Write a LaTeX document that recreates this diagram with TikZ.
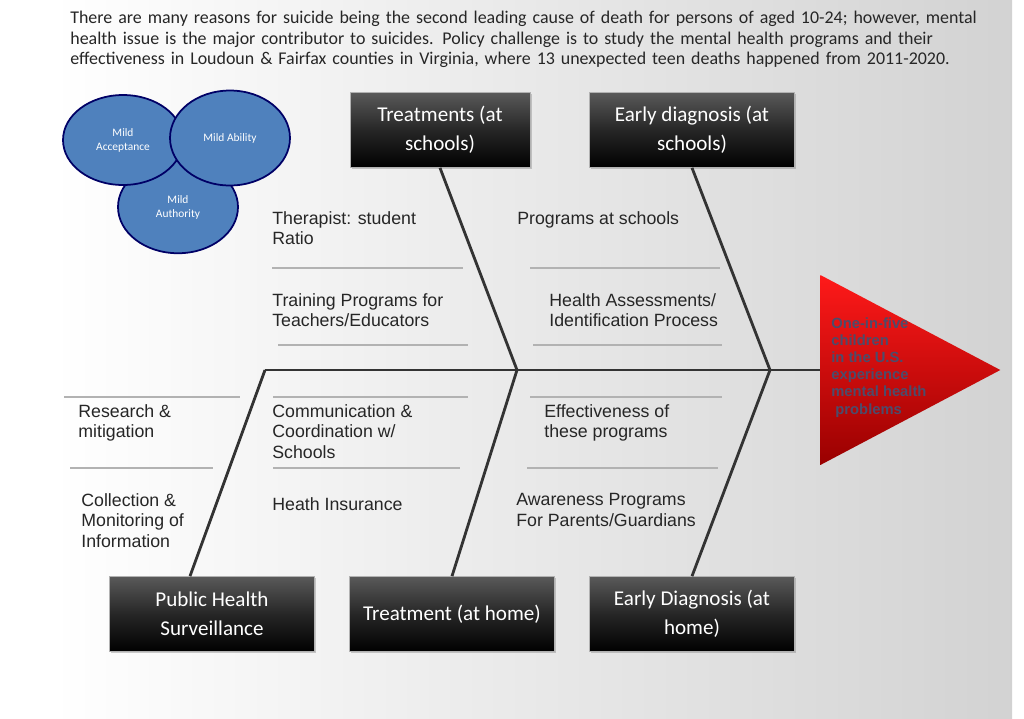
\documentclass[tikz,border=0pt]{standalone}
\usepackage{fontspec}
\setmainfont{Liberation Sans}
\newfontfamily\bodyfont{Carlito}
\usetikzlibrary{positioning, shapes.geometric, shadows}

\begin{document}
\begin{tikzpicture}[
    x=0.02cm, y=-0.02cm,
    font=\fontsize{10.1}{11.8}\selectfont,
    cause/.style={
        rectangle,
        draw=gray!60,
        top color=gray!70!black,
        bottom color=black,
        middle color=black!85,
        text=white,
        minimum width=4.1cm,
        minimum height=1.5cm,
        align=center,
        font=\bodyfont\fontsize{12}{16.5}\selectfont,
        drop shadow={shadow xshift=1pt, shadow yshift=-1pt, opacity=0.4}
    },
    bone/.style={line width=1.6pt, draw=black!80},
    rib/.style={line width=1.2pt, draw=gray!60},
    item/.style={anchor=north west, align=left, inner sep=0pt, text=black!85},
    circ/.style={ellipse, draw=blue!40!black, line width=1pt, fill={rgb,255:red,79;green,129;blue,189},
        text=white, align=center, font=\bodyfont\fontsize{6.5}{8}\selectfont}
]

% fond
\useasboundingbox (0,0) rectangle (1024,718);
\fill[white] (0,0) rectangle (1024,718);
\shade[left color=white, right color=gray!35] (52,0) rectangle (1012,718);

% texte du haut
\node[anchor=north west, text width=18.6cm, align=left, inner sep=0pt, text=black!85,
      font=\bodyfont\fontsize{10.2}{11.6}\selectfont] (intro) at (70,11)
  {There are many reasons for suicide being the second leading cause of death for persons of aged 10-24; however, mental\\health issue is the major contributor to suicides. Policy challenge is to study the mental health programs and their\\effectiveness in Loudoun \& Fairfax counties in Virginia, where 13 unexpected teen deaths happened from 2011-2020.};

% cercles
\node[circ, minimum width=2.4cm, minimum height=1.85cm] (autorite) at (178,207) {Mild\\Authority};
\node[circ, minimum width=2.4cm, minimum height=1.8cm] (acceptation) at (123,140) {Mild\\Acceptance};
\node[circ, minimum width=2.4cm, minimum height=1.9cm] (capacite) at (230,138) {Mild Ability};

% tete du poisson
\coordinate (queue) at (265,370);
\coordinate (j1) at (517,370);
\coordinate (j2) at (770,370);
\node[isosceles triangle, isosceles triangle apex angle=56, minimum height=3.6cm,
      isosceles triangle stretches, minimum width=3.8cm,
      top color=red!90, bottom color=red!60!black, draw=none, anchor=west,
      inner sep=0pt] (probleme) at (820,370) {};
\node[item, font=\bfseries\fontsize{8.4}{9.8}\selectfont, text=black!70!blue!40!gray] (texteprob) at (831,317)
  {One-in-five\\children\\in the U.S.\\experience\\mental health\\\ problems};

% causes
\node[cause, minimum width=3.6cm] (trtecole) at (440,130) {Treatments (at\\schools)};
\node[cause] (diagecole) at (692,130) {Early diagnosis (at\\schools)};
\node[cause] (sante) at (212,614) {Public Health\\Surveillance};
\node[cause] (trtmaison) at (452,614) {Treatment (at home)};
\node[cause] (diagmaison) at (692,614) {Early Diagnosis (at\\home)};

% aretes
\draw[bone] (queue) -- (probleme.west);
\draw[bone] (trtecole.south) -- (j1);
\draw[bone] (diagecole.south) -- (j2);
\draw[bone] (queue) -- (sante.north -| 190,0);
\draw[bone] (j1) -- (trtmaison.north);
\draw[bone] (j2) -- (diagmaison.north);

% cotes
\foreach \xa/\xb/\yy in {272/463/268, 530/720/268, 278/468/345, 533/722/345,
    64/240/397, 273/468/397, 530/722/397, 70/213/468, 273/460/468, 527/718/468}
  \draw[rib] (\xa,\yy) -- (\xb,\yy);

% libelles
\node[item] (t1) at (272,211) {Therapist: student\\Ratio};
\node[item] (t2) at (272,293) {Training Programs for\\Teachers/Educators};
\node[item] (t3) at (517,211) {Programs at schools};
\node[item] (t4) at (549,293) {Health Assessments/\\Identification Process};
\node[item] (t5) at (78,404) {Research \&\\mitigation};
\node[item] (t6) at (81,493) {Collection \&\\Monitoring of\\Information};
\node[item] (t7) at (272,404) {Communication \&\\Coordination w/\\Schools};
\node[item] (t8) at (272,497) {Heath Insurance};
\node[item] (t9) at (544,404) {Effectiveness of\\these programs};
\node[item] (t10) at (516,493) {Awareness Programs\\For Parents/Guardians};

\end{tikzpicture}
\end{document}
